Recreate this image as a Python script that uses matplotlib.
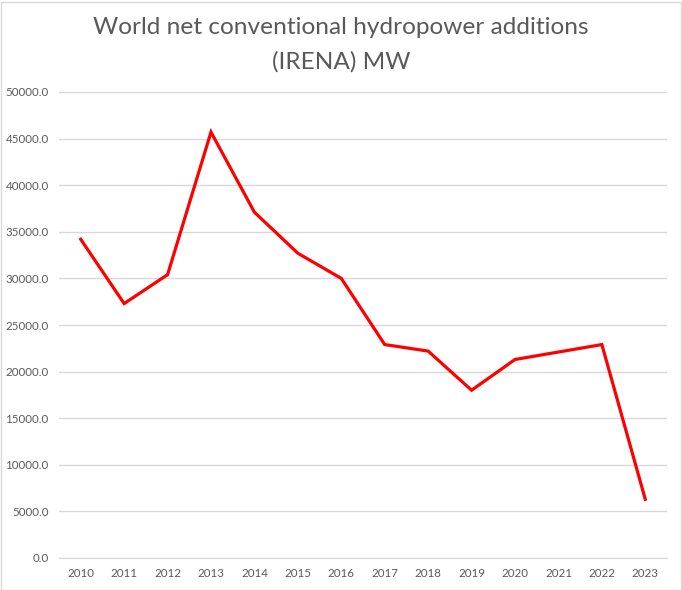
import matplotlib
matplotlib.use('Agg')
import matplotlib.pyplot as plt
from matplotlib.patches import Rectangle
from matplotlib.ticker import MultipleLocator, FuncFormatter

years = ['2010', '2011', '2012', '2013', '2014', '2015', '2016',
         '2017', '2018', '2019', '2020', '2021', '2022', '2023']
additions_mw = [34200, 27300, 30400, 45700, 37100, 32700, 30000,
                22900, 22200, 18000, 21300, 22100, 22900, 6300]

TEXT = '#595959'
GRID = '#d9d9d9'

plt.rcParams['font.family'] = ['Lato', 'DejaVu Sans']

fig = plt.figure(figsize=(6.82, 5.9), dpi=100)
ax = fig.add_axes([59 / 682, 1 - 558 / 590, 608 / 682, 466 / 590])

x = list(range(len(years)))
ax.plot(x, additions_mw, color='#ff0000', lw=2.3, solid_joinstyle='miter')

ax.set_xlim(-0.5, len(years) - 0.5)
ax.set_ylim(0, 50000)
ax.yaxis.set_major_locator(MultipleLocator(5000))
ax.yaxis.set_major_formatter(FuncFormatter(lambda v, p: f'{v:.1f}'))
ax.set_xticks(x)
ax.set_xticklabels(years)

ax.grid(axis='y', color=GRID, lw=1)
ax.set_axisbelow(True)
for side in ['top', 'right', 'left']:
    ax.spines[side].set_visible(False)
ax.spines['bottom'].set_color(GRID)
ax.tick_params(axis='both', length=0, labelsize=8.3, colors=TEXT)
ax.tick_params(axis='y', pad=7.5)
ax.tick_params(axis='x', pad=7.5)

fig.text(0.5, 1 - 27 / 590, 'World net conventional hydropower additions',
         ha='center', va='center', fontsize=17.6, color=TEXT)
fig.text(0.5, 1 - 62 / 590, '(IRENA) MW',
         ha='center', va='center', fontsize=17.6, color=TEXT)

fig.patches.append(Rectangle((0.5 / 682, 0.5 / 590), 680 / 682, 588 / 590,
                             transform=fig.transFigure, fill=False,
                             edgecolor=GRID, lw=1))

fig.savefig('out.png', dpi=100, facecolor='white')
